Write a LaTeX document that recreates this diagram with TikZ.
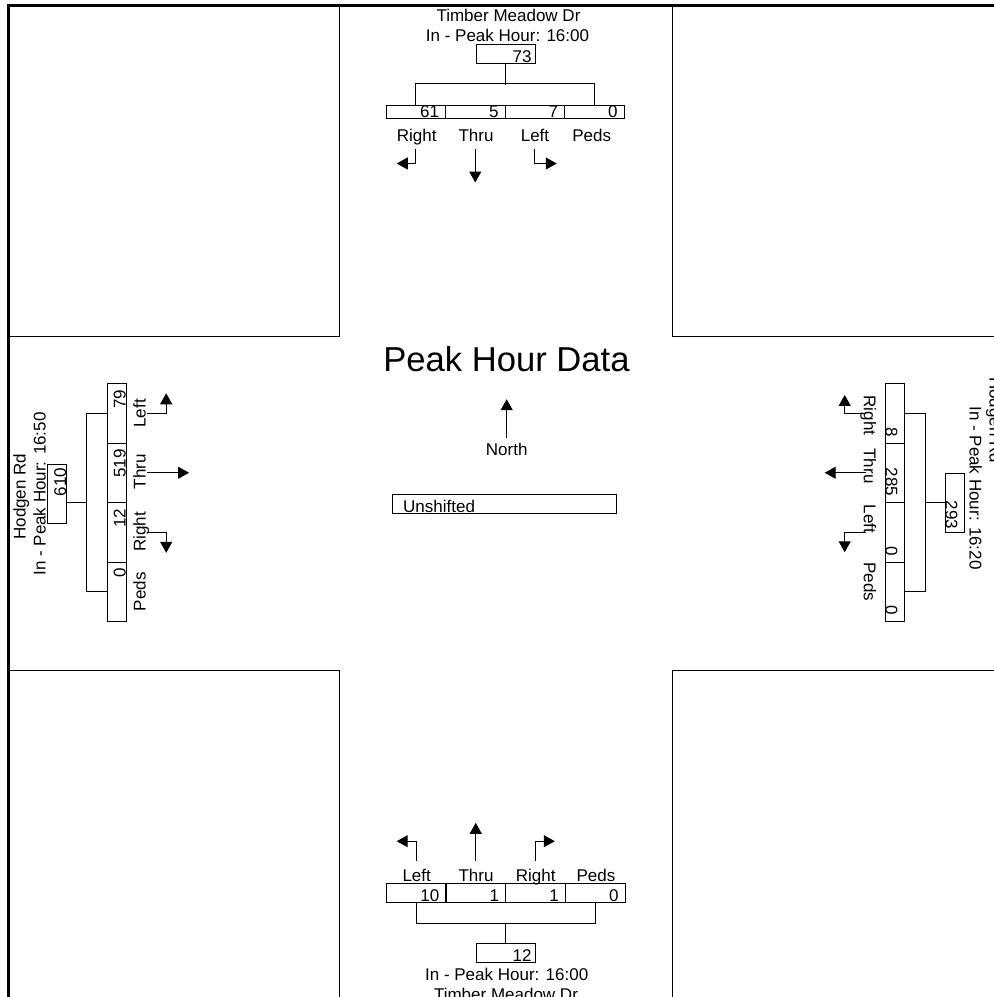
\documentclass[tikz,border=0pt]{standalone}
\usepackage{fontspec}
\setmainfont{Liberation Sans}
\usetikzlibrary{arrows.meta,positioning,calc}

\tikzset{
  every node/.style={font=\fontsize{17}{20}\selectfont, inner sep=0pt},
  wire/.style={line width=1pt},
  cnt/.style={draw, line width=1pt, inner xsep=6.5pt, text width=46.5pt, align=right, text height=18.5pt, text depth=0.5pt},
  cntlow/.style={cnt, text height=12.5pt},
  tot/.style={cnt, inner xsep=3.5pt, text width=52pt},
  lab/.style={anchor=base},
  mv/.style={line width=1pt, -{Triangle[length=11pt,width=12pt]}},
}

\begin{document}
\begin{tikzpicture}[x=1pt,y=-1pt]

        \useasboundingbox (0,0) rectangle (994,997);
        \clip (0,0) rectangle (994,997);
        \fill[white] (0,0) rectangle (994,997);

        % frame and the four corner blocks
        \draw[line width=3pt] (8.5,1005) -- (8.5,5.5) -- (1005,5.5);
        \draw[wire] (8.5,336.7) -- (339.5,336.7) -- (339.5,5.5);
        \draw[wire] (672,5.5) -- (672,336.7) -- (1005,336.7);
        \draw[wire] (8.5,670.5) -- (339.5,670.5) -- (339.5,1005);
        \draw[wire] (1005,670.5) -- (672,670.5) -- (672,1005);

        % centre
        \node[anchor=base, font=\fontsize{34.6}{40}\selectfont] (title) at (506.5,371.7) {Peak Hour Data};
        \node[anchor=base] (north) at (506.7,455) {North};
        \draw[mv] ([yshift=4.5pt]north.north) -- ++(0,-38.8);
        \node[draw, line width=1pt, anchor=north west, inner xsep=11pt, text width=202.3pt, align=left, text height=17.7pt, text depth=1.6pt] (shift) at (391.7,494) {Unshifted};

        % north leg
        \node[anchor=base] (tname) at (508.5,21.7) {Timber Meadow Dr};
        \node[anchor=base] (tpeak) at (507.5,41.7) {In - Peak Hour: 16:00};
        \node[tot] (ttot) at (505.5,53.8) {73};
        \node[cntlow] (tc1) at (415.75,111.5) {61};
        \node[cntlow] (tc2) at (475.25,111.5) {5};
        \node[cntlow] (tc3) at (534.75,111.5) {7};
        \node[cntlow] (tc4) at (594.25,111.5) {0};
        \draw[wire] (tc1.north) -- ++(0,-20.7) -| (tc4.north);
        \draw[wire] (ttot.south) -- ++(0,21);
        \node[lab] (tl1) at (416.7,141.7) {Right};
        \node[lab] (tl2) at (476,141.7) {Thru};
        \node[lab] (tl3) at (535,141.7) {Left};
        \node[lab] (tl4) at (591.7,141.7) {Peds};
        \draw[mv] ([yshift=-30pt]tc1.south) -- ++(0,15) -- ++(-19,0);
        \draw[mv] ([yshift=-30pt]tc2.south) -- ++(0,34);
        \draw[mv] ([yshift=-30pt]tc3.south) -- ++(0,15) -- ++(22,0);

        % south leg
        \node[lab] (bl1) at (416.7,881) {Left};
        \node[lab] (bl2) at (476,881) {Thru};
        \node[lab] (bl3) at (535.7,881) {Right};
        \node[lab] (bl4) at (596,881) {Peds};
        \node[cnt] (bc1) at (416,892.8) {10};
        \node[cnt] (bc2) at (475.75,892.8) {1};
        \node[cnt] (bc3) at (535.5,892.8) {1};
        \node[cnt] (bc4) at (595.25,892.8) {0};
        \draw[wire] (bc1.south) -- ++(0,20.4) -| (bc4.south);
        \node[tot] (btot) at (505.5,952.5) {12};
        \draw[wire] (btot.north) -- ++(0,-20);
        \node[anchor=base] (bpeak) at (506.7,980) {In - Peak Hour: 16:00};
        \node[anchor=base] (bname) at (506,1000) {Timber Meadow Dr};
        \draw[mv] ([yshift=21.6pt]bc1.north) -- ++(0,-20) -- ++(-19.3,0);
        \draw[mv] ([yshift=21.6pt]bc2.north) -- ++(0,-38.4);
        \draw[mv] ([yshift=21.6pt]bc3.north) -- ++(0,-20) -- ++(19.3,0);

        % west leg
        \node[lab, rotate=90] (lname) at (25.5,496.7) {Hodgen Rd};
        \node[lab, rotate=90] (lpeak) at (45.5,494) {In - Peak Hour: 16:50};
        \node[tot, rotate=90] (ltot) at (57.2,493.7) {610};
        \node[cnt, rotate=90] (lc1) at (116.7,413.25) {79};
        \node[cnt, rotate=90] (lc2) at (116.7,472.75) {519};
        \node[cnt, rotate=90] (lc3) at (116.7,532.25) {12};
        \node[cnt, rotate=90] (lc4) at (116.7,591.75) {0};
        \draw[wire] (lc1.north) -- ++(-20,0) |- (lc4.north);
        \coordinate (lmid) at (87.2,502.5);
        \draw[wire] (lmid) -- (ltot.south |- lmid);
        \node[lab, rotate=90] (ll1) at (145.5,413.3) {Left};
        \node[lab, rotate=90] (ll2) at (145.5,471.7) {Thru};
        \node[lab, rotate=90] (ll3) at (145.5,532) {Right};
        \node[lab, rotate=90] (ll4) at (145.5,591.7) {Peds};
        \draw[mv] ([xshift=20.7pt]lc1.south) -- ++(18.8,0) -- ++(0,-20);
        \draw[mv] ([xshift=20.7pt]lc2.south) -- ++(41.6,0);
        \draw[mv] ([xshift=20.7pt]lc3.south) -- ++(18.8,0) -- ++(0,20.6);

        % east leg
        \node[lab, rotate=-90] (rname) at (989.5,420) {Hodgen Rd};
        \node[lab, rotate=-90] (rpeak) at (969.5,488) {In - Peak Hour: 16:20};
        \node[tot, rotate=-90] (rtot) at (954.7,503.3) {293};
        \node[cnt, rotate=-90] (rc1) at (894.7,413.25) {8};
        \node[cnt, rotate=-90] (rc2) at (894.7,472.75) {285};
        \node[cnt, rotate=-90] (rc3) at (894.7,532.25) {0};
        \node[cnt, rotate=-90] (rc4) at (894.7,591.75) {0};
        \draw[wire] (rc1.north) -- ++(20.7,0) |- (rc4.north);
        \coordinate (rmid) at (925,502.5);
        \draw[wire] (rmid) -- (rtot.south |- rmid);
        \node[lab, rotate=-90] (rl1) at (863.8,415.5) {Right};
        \node[lab, rotate=-90] (rl2) at (863.8,466) {Thru};
        \node[lab, rotate=-90] (rl3) at (863.8,519) {Left};
        \node[lab, rotate=-90] (rl4) at (863.8,582) {Peds};
        \draw[mv] ([xshift=-18.3pt]rc1.south) -- ++(-21.7,0) -- ++(0,-18.3);
        \draw[mv] ([xshift=-18.3pt]rc2.south) -- ++(-41.7,0);
        \draw[mv] ([xshift=-18.3pt]rc3.south) -- ++(-21.7,0) -- ++(0,20);

\end{tikzpicture}
\end{document}
